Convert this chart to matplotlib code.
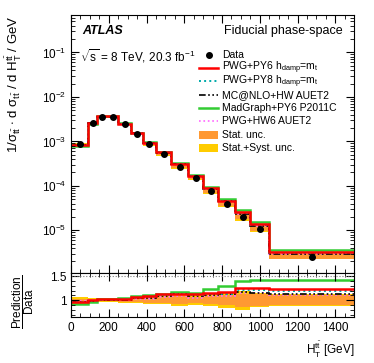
import numpy as np
import matplotlib
matplotlib.use('Agg')
import matplotlib.pyplot as plt
from matplotlib.lines import Line2D
from matplotlib.patches import Rectangle
from matplotlib.ticker import MultipleLocator, LogLocator, NullFormatter

plt.rcParams['font.family'] = ['Liberation Sans', 'DejaVu Sans']
plt.rcParams['mathtext.fontset'] = 'custom'
plt.rcParams['mathtext.rm'] = 'Liberation Sans'
plt.rcParams['mathtext.it'] = 'Liberation Sans'
plt.rcParams['mathtext.bf'] = 'Liberation Sans:bold'

# bin edges in GeV
edges = [0, 90, 140, 190, 250, 320, 380, 450, 530, 620, 700, 780, 870, 950, 1050, 1500]

# normalised data cross-section per bin
data = [8.65e-4, 2.6e-3, 3.56e-3, 3.56e-3, 2.44e-3, 1.45e-3, 8.65e-4, 5.15e-4,
        2.71e-4, 1.51e-4, 7.7e-5, 4.0e-5, 2.04e-5, 1.1e-5, 2.58e-6]

# relative uncertainties
stat_unc = [0.03, 0.02, 0.02, 0.02, 0.03, 0.04, 0.05, 0.06, 0.08, 0.06, 0.08, 0.10, 0.14, 0.12, 0.11]
tot_unc = [0.07, 0.05, 0.04, 0.04, 0.05, 0.06, 0.07, 0.09, 0.12, 0.10, 0.13, 0.16, 0.20, 0.15, 0.13]

# prediction / data
r_pwgpy6 = [0.96, 1.00, 1.02, 1.02, 1.03, 1.07, 1.08, 1.12, 1.14, 1.12, 1.16, 1.17, 1.26, 1.26, 1.24]
r_pwgpy8 = [0.96, 0.99, 1.01, 1.01, 1.02, 1.05, 1.06, 1.10, 1.12, 1.10, 1.13, 1.13, 1.21, 1.21, 1.20]
r_mcnlo = [0.97, 0.99, 1.00, 1.00, 1.01, 1.04, 1.05, 1.08, 1.12, 1.08, 1.11, 1.12, 1.17, 1.16, 1.13]
r_madgraph = [0.92, 0.97, 1.02, 1.02, 1.04, 1.08, 1.10, 1.12, 1.18, 1.16, 1.24, 1.30, 1.41, 1.43, 1.42]
r_pwghw6 = [0.98, 1.00, 1.00, 1.00, 1.00, 1.02, 1.03, 1.06, 1.08, 1.04, 1.08, 1.09, 1.16, 1.15, 1.11]

edges = np.array(edges)
data = np.array(data)
centers = 0.5 * (edges[1:] + edges[:-1])
stat_unc = np.array(stat_unc)
tot_unc = np.array(tot_unc)

c_stat = '#FF9933'
c_tot = '#FFCC00'

# drawing order (bottom to top)
models = {
    'madgraph': (r_madgraph, '#33CC33', '-', 1.8, 'MadGraph+PY6 P2011C'),
    'pwghw6': (r_pwghw6, '#FF66FF', ':', 1.2, 'PWG+HW6 AUET2'),
    'mcnlo': (r_mcnlo, 'black', (0, (4, 1.5, 1, 1.5, 1, 1.5)), 1.2, 'MC@NLO+HW AUET2'),
    'pwgpy8': (r_pwgpy8, '#00AAAA', ':', 1.4, r'PWG+PY8 h$_{\rm damp}$=m$_{\rm t}$'),
    'pwgpy6': (r_pwgpy6, '#FF0000', '-', 1.8, r'PWG+PY6 h$_{\rm damp}$=m$_{\rm t}$'),
}
legend_order = ['pwgpy6', 'pwgpy8', 'mcnlo', 'madgraph', 'pwghw6']

fig = plt.figure(figsize=(3.74, 3.63), dpi=100)
ax = fig.add_axes([0.190, 0.248, 0.757, 0.711])
axr = fig.add_axes([0.190, 0.127, 0.757, 0.121])

def band(a, center, rel, color):
    lo = np.append(center * (1 - rel), center[-1] * (1 - rel[-1]))
    hi = np.append(center * (1 + rel), center[-1] * (1 + rel[-1]))
    a.fill_between(edges, lo, hi, step='post', color=color, lw=0)

band(ax, data, tot_unc, c_tot)
band(ax, data, stat_unc, c_stat)
ones = np.ones(len(data))
band(axr, ones, tot_unc, c_tot)
band(axr, ones, stat_unc, c_stat)

for key, (r, col, ls, lw, lab) in models.items():
    r = np.array(r)
    ax.stairs(data * r, edges, color=col, ls=ls, lw=lw, baseline=None)
    axr.stairs(r, edges, color=col, ls=ls, lw=lw, baseline=None)

ax.errorbar(centers, data, yerr=data * tot_unc * 0.3, fmt='o', color='black', ms=4, lw=0.8, zorder=5)

ax.set_yscale('log')
ax.set_xlim(0, 1500)
ax.set_ylim(1.1e-6, 0.7)
axr.set_xlim(0, 1500)
axr.set_ylim(0.65, 1.57)
axr.axhline(1.5, color='grey', ls=':', lw=0.8)

for a in (ax, axr):
    a.tick_params(which='both', direction='in', top=True, right=True, labelsize=8.5)
    a.tick_params(which='major', length=6)
    a.tick_params(which='minor', length=3)
    a.xaxis.set_major_locator(MultipleLocator(200))
    a.xaxis.set_minor_locator(MultipleLocator(50))
ax.yaxis.set_major_locator(LogLocator(base=10, numticks=20))
ax.yaxis.set_minor_locator(LogLocator(base=10, subs=np.arange(2, 10), numticks=100))
ax.yaxis.set_minor_formatter(NullFormatter())
ax.tick_params(labelbottom=False)
axr.yaxis.set_minor_locator(MultipleLocator(0.1))
axr.set_yticks([1.0, 1.5])
axr.set_yticklabels(['1', '1.5'])

ax.set_ylabel(r'1/$\sigma_{\rm t\bar{t}}$ $\cdot$ d $\sigma_{\rm t\bar{t}}$ / d H$_{\rm T}^{\rm t\bar{t}}$ / GeV',
              fontsize=9.5, loc='top')
ax.yaxis.set_label_coords(-0.165, 1.0)
axr.set_xlabel(r'H$_{\rm T}^{\rm t\bar{t}}$ [GeV]', fontsize=8.5, loc='right')
axr.set_ylabel(r'$\dfrac{\rm Prediction}{\rm Data}$', fontsize=8.5)
axr.yaxis.set_label_coords(-0.125, 0.34)

ax.text(0.04, 0.925, 'ATLAS', transform=ax.transAxes, fontsize=9, fontweight='bold', fontstyle='italic')
ax.text(0.96, 0.925, 'Fiducial phase-space', transform=ax.transAxes, fontsize=9, ha='right')
ax.text(0.03, 0.82, r'$\sqrt{\rm s}$ = 8 TeV, 20.3 fb$^{-1}$', transform=ax.transAxes, fontsize=8.5)

# manual legend, fixed row spacing
lx0, lx1, tx = 0.452, 0.519, 0.534
row_y = 0.845
dy = 0.0515
fs = 7.5
ax.plot([0.5 * (lx0 + lx1)], [row_y], 'o', color='black', ms=4, transform=ax.transAxes)
ax.text(tx, row_y, 'Data', transform=ax.transAxes, fontsize=fs, va='center')
for i, key in enumerate(legend_order):
    r, col, ls, lw, lab = models[key]
    y = row_y - (i + 1) * dy
    ax.add_line(Line2D([lx0, lx1], [y, y], color=col, ls=ls, lw=lw, transform=ax.transAxes))
    ax.text(tx, y, lab, transform=ax.transAxes, fontsize=fs, va='center')
for j, (col, lab) in enumerate([(c_stat, 'Stat. unc.'), (c_tot, 'Stat.+Syst. unc.')]):
    y = row_y - (len(legend_order) + 1 + j) * dy
    ax.add_patch(Rectangle((lx0, y - 0.016), lx1 - lx0, 0.032, color=col, lw=0, transform=ax.transAxes))
    ax.text(tx, y, lab, transform=ax.transAxes, fontsize=fs, va='center')

fig.savefig('out.png', dpi=100)
